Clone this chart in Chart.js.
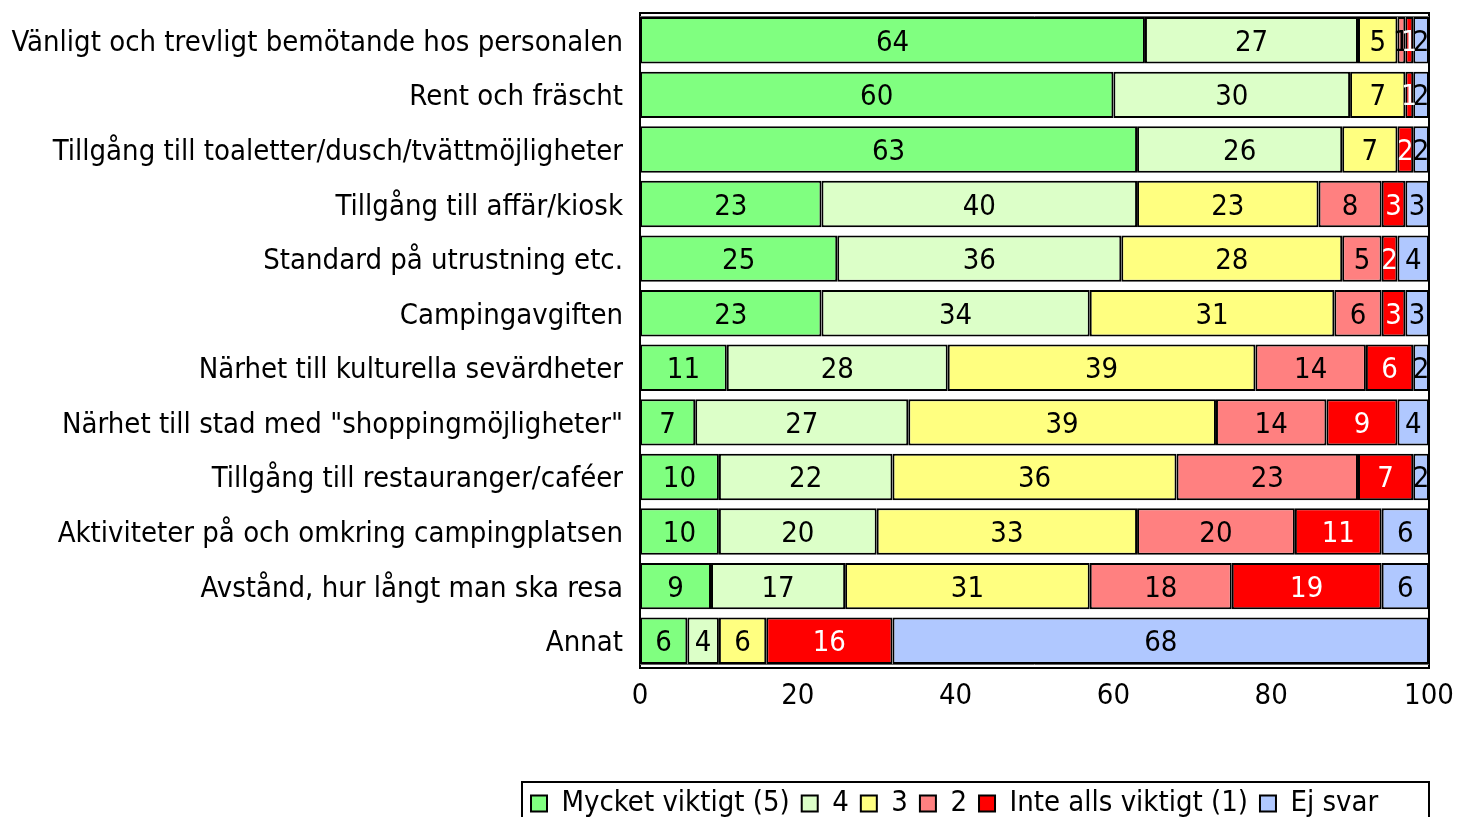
<!DOCTYPE html>
<html>
<head>
<meta charset="utf-8">
<script src="https://cdn.jsdelivr.net/npm/chart.js@4.4.1/dist/chart.umd.min.js"></script>
<style>
  html, body { margin: 0; padding: 0; background: #fff; overflow: hidden; }
  #wrap { position: relative; width: 1458px; height: 817px; }
</style>
</head>
<body>
<div id="wrap"><canvas id="c"></canvas></div>
<script>
const categories = [
  'Vänligt och trevligt bemötande hos personalen',
  'Rent och fräscht',
  'Tillgång till toaletter/dusch/tvättmöjligheter',
  'Tillgång till affär/kiosk',
  'Standard på utrustning etc.',
  'Campingavgiften',
  'Närhet till kulturella sevärdheter',
  'Närhet till stad med "shoppingmöjligheter"',
  'Tillgång till restauranger/caféer',
  'Aktiviteter på och omkring campingplatsen',
  'Avstånd, hur långt man ska resa',
  'Annat'
];
const seriesNames = ['Mycket viktigt (5)', '4', '3', '2', 'Inte alls viktigt (1)', 'Ej svar'];
const mycketViktigt = [64, 60, 63, 23, 25, 23, 11, 7, 10, 10, 9, 6];
const betyg4        = [27, 30, 26, 40, 36, 34, 28, 27, 22, 20, 17, 4];
const betyg3        = [5, 7, 7, 23, 28, 31, 39, 39, 36, 33, 31, 6];
const betyg2        = [1, 0, 0, 8, 5, 6, 14, 14, 23, 20, 18, 0];
const inteAlls      = [1, 1, 2, 3, 2, 3, 6, 9, 7, 11, 19, 16];
const ejSvar        = [2, 2, 2, 3, 4, 3, 2, 4, 2, 6, 6, 68];
const xTicks = [0, 20, 40, 60, 80, 100];

const colors = ['#80FF80', '#DCFFC8', '#FFFF80', '#FF8080', '#FF0000', '#B0C8FF'];
const labelColors = ['#000', '#000', '#000', '#000', '#fff', '#000'];
const FONT = '"DejaVu Sans Condensed", "DejaVu Sans", sans-serif';
const FS = 29;

const seriesData = [mycketViktigt, betyg4, betyg3, betyg2, inteAlls, ejSvar];

const datasets = seriesNames.map((name, i) => ({
  label: name,
  data: seriesData[i],
  backgroundColor: colors[i],
  borderColor: '#000',
  borderWidth: 2,
  borderSkipped: false,
  barPercentage: 0.85,
  categoryPercentage: 1.0
}));

const valueLabels = {
  id: 'valueLabels',
  afterDatasetsDraw(chart) {
    const ctx = chart.ctx;
    ctx.save();
    ctx.font = FS + 'px ' + FONT;
    ctx.textAlign = 'center';
    ctx.textBaseline = 'middle';
    chart.data.datasets.forEach((ds, di) => {
      const meta = chart.getDatasetMeta(di);
      meta.data.forEach((el, idx) => {
        const v = ds.data[idx];
        if (!v) return;
        const cx = (el.x + el.base) / 2;
        ctx.fillStyle = labelColors[di];
        ctx.fillText(String(v), cx, el.y + 3);
      });
    });
    ctx.restore();
  }
};

const LEG_PAD = 12;

const frame = {
  id: 'frame',
  afterLayout(chart) {
    const lg = chart.legend;
    if (!lg) return;
    lg.left = 531 - LEG_PAD;
    lg.right = chart.chartArea.right;
    lg.top = 777;
  },
  afterDatasetsDraw(chart) {
    const {ctx, chartArea: a} = chart;
    ctx.save();
    ctx.strokeStyle = '#000';
    ctx.lineWidth = 2;
    ctx.strokeRect(a.left, a.top, a.right - a.left, a.bottom - a.top);
    ctx.lineWidth = 1;
    ctx.strokeStyle = '#666';
    ctx.beginPath();
    ctx.moveTo(a.left, a.top + 3.5); ctx.lineTo(a.right, a.top + 3.5);
    ctx.moveTo(a.left, a.bottom - 3.5); ctx.lineTo(a.right, a.bottom - 3.5);
    ctx.stroke();
    ctx.restore();
  },
  afterDraw(chart) {
    const {ctx, chartArea: a} = chart;
    ctx.save();
    ctx.strokeStyle = '#000';
    ctx.lineWidth = 2;
    ctx.strokeRect(522, 782, a.right - 522, 60);
    ctx.restore();
  }
};

function zeroPad(scale) {
  scale.paddingTop = 0;
  scale.paddingBottom = 0;
  scale.paddingLeft = 0;
  scale.paddingRight = 0;
}

new Chart(document.getElementById('c'), {
  type: 'bar',
  data: { labels: categories, datasets },
  options: {
    indexAxis: 'y',
    responsive: true,
    maintainAspectRatio: false,
    animation: false,
    layout: { padding: { left: 0, right: 29, top: 13, bottom: 0 } },
    scales: {
      x: {
        stacked: true,
        min: 0,
        max: 100,
        afterBuildTicks(scale) { scale.ticks = xTicks.map(v => ({ value: v })); },
        afterFit(scale) { scale.height = 98; zeroPad(scale); },
        grid: { display: false, drawTicks: false },
        border: { display: false },
        ticks: { color: '#000', padding: 11, maxRotation: 0, font: { family: FONT, size: FS } }
      },
      y: {
        stacked: true,
        afterFit(scale) { scale.width = 640; zeroPad(scale); },
        grid: { display: false, drawTicks: false },
        border: { display: false },
        ticks: { color: '#000', padding: 17, labelOffset: 3, autoSkip: false, font: { family: FONT, size: FS } }
      }
    },
    plugins: {
      legend: {
        position: 'bottom',
        align: 'start',
        labels: {
          color: '#000',
          boxWidth: 16,
          boxHeight: 16,
          padding: LEG_PAD,
          font: { family: FONT, size: FS }
        }
      },
      tooltip: { enabled: false }
    }
  },
  plugins: [valueLabels, frame]
});
</script>
</body>
</html>
